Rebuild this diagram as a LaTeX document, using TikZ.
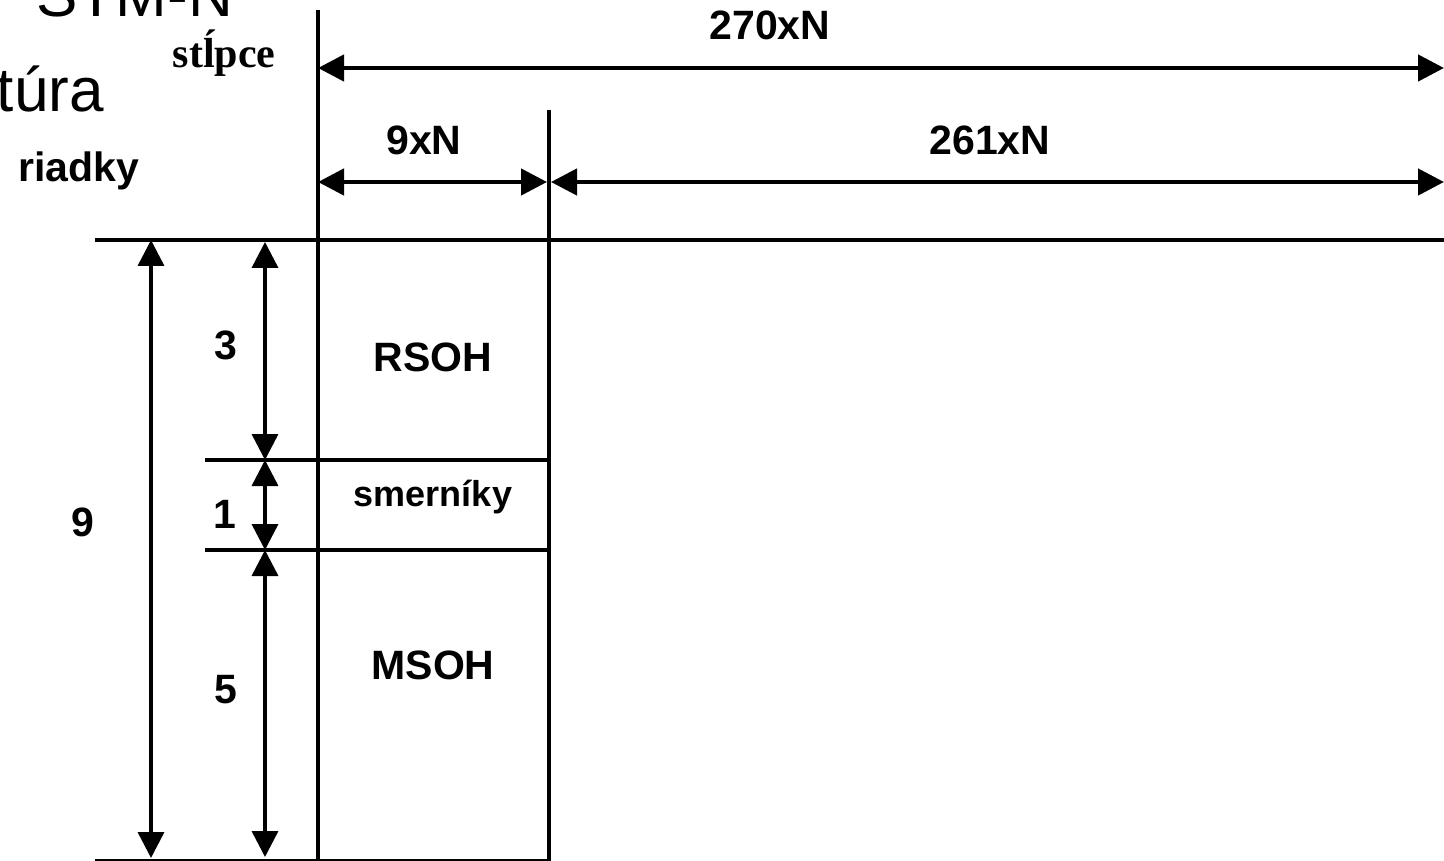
\documentclass[tikz,border=0pt]{standalone}
\usepackage{fontspec}
\setmainfont{Liberation Sans}
\newfontfamily\serifbold{Liberation Serif}
\usetikzlibrary{arrows.meta}
\begin{document}
\begin{tikzpicture}[x=1pt,y=-1pt,
  lbl/.style={font=\fontsize{41}{41}\selectfont\bfseries, inner sep=0pt},
  big/.style={font=\fontsize{62}{62}\selectfont, inner sep=0pt},
  hdim/.style={{Triangle[length=26pt,width=26pt]}-{Triangle[length=26pt,width=26pt]}, line width=4.5pt},
  vdim/.style={{Triangle[length=26pt,width=26pt]}-{Triangle[length=26pt,width=26pt]}, line width=3.5pt},
  frame/.style={line width=4.5pt},
  sep/.style={line width=3.5pt},
  thin/.style={line width=2.5pt}]
\useasboundingbox (0,0) rectangle (1444,861);
\clip (0,0) rectangle (1444,861);
% frame coordinates
\coordinate (L0) at (318,10);
\coordinate (Lb) at (318,861);
\coordinate (M0) at (549,110);
\coordinate (Mb) at (549,861);
\coordinate (T0) at (95,240);
\coordinate (T1) at (1444,240);
\coordinate (B0) at (95,860);
\coordinate (B1) at (551,860);
\coordinate (S0) at (205,460);
\coordinate (S1) at (551,460);
\coordinate (P0) at (205,550);
\coordinate (P1) at (551,550);
% dimension coordinates
\coordinate (a270l) at (318,68);
\coordinate (a270r) at (1444,68);
\coordinate (a9l) at (318,182);
\coordinate (a9r) at (547,182);
\coordinate (a261l) at (551,182);
\coordinate (a261r) at (1444,182);
\coordinate (v9t) at (151,240);
\coordinate (v9b) at (151,858);
\coordinate (v3t) at (265,242);
\coordinate (v3b) at (265,460);
\coordinate (v1t) at (265,460);
\coordinate (v1b) at (265,550);
\coordinate (v5t) at (265,550);
\coordinate (v5b) at (265,857);
% lines
\draw[frame] (L0) -- (Lb);
\draw[frame] (M0) -- (Mb);
\draw[frame] (T0) -- (T1);
\draw[thin] (B0) -- (B1);
\draw[sep] (S0) -- (S1);
\draw[sep] (P0) -- (P1);
% dimension arrows
\draw[hdim] (a270l) -- (a270r);
\draw[hdim] (a9l) -- (a9r);
\draw[hdim] (a261l) -- (a261r);
\draw[vdim] (v9t) -- (v9b);
\draw[vdim] (v3t) -- (v3b);
\draw[vdim] (v1t) -- (v1b);
\draw[vdim] (v5t) -- (v5b);
% texts
\node[big, anchor=base east] (title1) at (233,17) {STM-N};
\node[big, anchor=base east] (title2) at (104,112) {túra};
\node[inner sep=0pt, anchor=base, font=\fontsize{42}{42}\selectfont\serifbold\bfseries] (stlpce) at (224,68) {stĺpce};
\node[lbl, anchor=base] (riadky) at (79,182) {riadky};
\node[lbl, anchor=base] (t270) at (770,40) {270xN};
\node[lbl, anchor=base] (t9xn) at (424,155) {9xN};
\node[lbl, anchor=base] (t261) at (990,155) {261xN};
\node[lbl] (n3) at (226,345) {3};
\node[lbl] (n1) at (225,514) {1};
\node[lbl] (n9) at (83,522) {9};
\node[lbl] (n5) at (226,690) {5};
\node[lbl] (rsoh) at (433,357) {RSOH};
\node[lbl, font=\fontsize{36}{36}\selectfont\bfseries] (smer) at (433,497) {smerníky};
\node[lbl] (msoh) at (433,665) {MSOH};
\end{tikzpicture}
\end{document}
